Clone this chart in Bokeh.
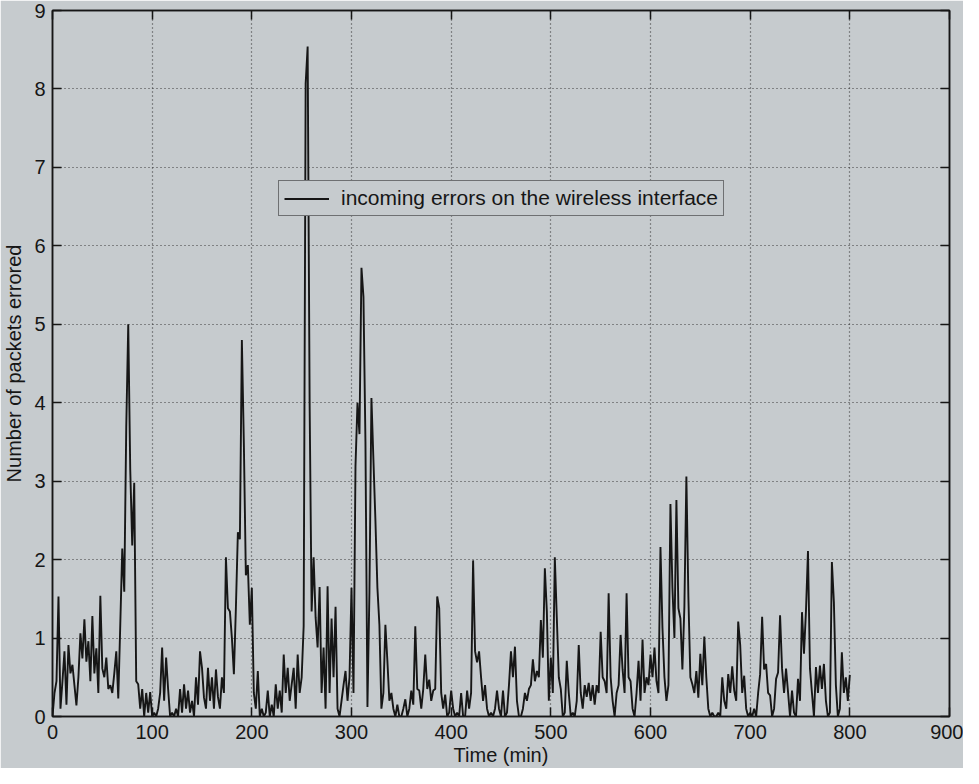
from bokeh.plotting import figure
from bokeh.models import Range1d, LinearAxis, FixedTicker, CustomLabelingPolicy
from bokeh.embed import file_html
from bokeh.resources import INLINE

# ---------------- data ----------------
x_ticks = [0, 100, 200, 300, 400, 500, 600, 700, 800, 900]
y_ticks = [0, 1, 2, 3, 4, 5, 6, 7, 8, 9]
series_name = "incoming errors on the wireless interface"
sample_step_min = 2

errors_000_098 = [0.0, 0.3, 0.45, 1.53, 0.1, 0.45, 0.83, 0.15, 0.91, 0.55,
                  0.66, 0.4, 0.14, 0.5, 1.06, 0.74, 1.24, 0.7, 0.96, 0.45,
                  1.28, 0.55, 0.87, 0.3, 1.54, 0.61, 0.5, 0.75, 0.35, 0.4,
                  0.3, 0.55, 0.83, 0.23, 1.17, 2.14, 1.59, 3.69, 5.0, 3.15,
                  2.18, 2.98, 0.45, 0.41, 0.1, 0.35, 0.0, 0.3, 0.05, 0.31]
errors_100_198 = [0.0, 0.05, 0.0, 0.1, 0.3, 0.88, 0.2, 0.75, 0.35, 0.0,
                  0.05, 0.0, 0.1, 0.0, 0.35, 0.05, 0.41, 0.1, 0.33, 0.05,
                  0.2, 0.0, 0.5, 0.15, 0.83, 0.62, 0.24, 0.1, 0.62, 0.2,
                  0.5, 0.1, 0.6, 0.25, 0.1, 0.5, 0.3, 2.03, 1.38, 1.34,
                  1.0, 0.54, 1.38, 2.35, 2.26, 4.8, 3.48, 1.8, 1.93, 1.17]
errors_200_298 = [1.64, 0.3, 0.1, 0.58, 0.0, 0.1, 0.0, 0.05, 0.33, 0.0,
                  0.15, 0.0, 0.41, 0.1, 0.33, 0.05, 0.79, 0.3, 0.62, 0.2,
                  0.41, 0.62, 0.1, 0.79, 0.3, 0.5, 1.15, 8.07, 8.54, 3.97,
                  1.34, 2.03, 1.26, 0.88, 1.65, 0.3, 0.88, 0.1, 1.66, 0.3,
                  1.25, 0.5, 1.4, 0.1, 0.0, 0.2, 0.4, 0.58, 0.2, 0.5]
errors_300_398 = [1.64, 0.3, 3.19, 4.0, 3.6, 5.72, 5.35, 3.5, 0.12, 1.59,
                  4.06, 3.27, 2.5, 1.64, 1.17, 0.1, 0.3, 1.17, 0.71, 0.2,
                  0.3, 0.1, 0.0, 0.15, 0.0, 0.0, 0.1, 0.22, 0.0, 0.1,
                  0.33, 0.15, 1.15, 0.35, 0.33, 0.1, 0.35, 0.79, 0.35, 0.47,
                  0.2, 0.33, 0.35, 1.53, 1.38, 0.3, 0.1, 0.28, 0.0, 0.05]
errors_400_498 = [0.33, 0.1, 0.0, 0.05, 0.0, 0.3, 0.0, 0.0, 0.33, 0.1,
                  0.3, 1.99, 0.83, 0.69, 0.83, 0.5, 0.2, 0.4, 0.1, 0.0,
                  0.05, 0.0, 0.1, 0.33, 0.1, 0.0, 0.33, 0.0, 0.05, 0.4,
                  0.83, 0.5, 0.89, 0.2, 0.0, 0.0, 0.1, 0.3, 0.2, 0.35,
                  0.4, 0.73, 0.45, 0.58, 0.5, 1.23, 0.75, 1.89, 1.34, 0.2]
errors_500_598 = [0.75, 0.3, 2.03, 1.26, 0.5, 0.35, 0.0, 0.05, 0.71, 0.3,
                  0.0, 0.05, 0.0, 0.2, 0.91, 0.3, 0.1, 0.4, 0.25, 0.43,
                  0.2, 0.4, 0.15, 0.4, 0.3, 1.08, 0.5, 0.45, 0.3, 1.57,
                  0.5, 0.2, 0.0, 0.3, 0.4, 1.04, 0.6, 0.3, 1.57, 0.5,
                  0.45, 0.1, 0.0, 0.3, 0.71, 0.2, 0.98, 0.3, 0.5, 0.4]
errors_600_698 = [0.79, 0.5, 0.88, 0.45, 0.3, 2.16, 1.13, 0.5, 0.2, 0.4,
                  2.71, 1.64, 1.0, 2.76, 1.38, 1.25, 0.6, 1.4, 3.06, 1.53,
                  0.5, 0.41, 0.3, 0.58, 0.24, 0.8, 0.4, 1.02, 0.5, 0.1,
                  0.0, 0.05, 0.0, 0.0, 0.05, 0.0, 0.5, 0.2, 0.1, 0.54,
                  0.3, 0.64, 0.33, 0.2, 1.21, 0.91, 0.3, 0.52, 0.1, 0.0]
errors_700_800 = [0.05, 0.0, 0.1, 0.0, 0.3, 0.54, 1.27, 0.6, 0.67, 0.3,
                  0.27, 0.0, 0.1, 0.48, 0.56, 1.29, 0.61, 0.3, 0.61, 0.31,
                  0.0, 0.33, 0.05, 0.0, 0.48, 0.2, 1.33, 0.8, 1.35, 2.11,
                  0.61, 0.3, 0.0, 0.63, 0.3, 0.65, 0.35, 0.67, 0.2, 0.0,
                  0.05, 1.97, 1.46, 0.4, 0.0, 0.1, 0.82, 0.3, 0.5, 0.2,
                  0.53]

errors = (errors_000_098 + errors_100_198 + errors_200_298 + errors_300_398 +
          errors_400_498 + errors_500_598 + errors_600_698 + errors_700_800)
time_min = [i * sample_step_min for i in range(len(errors))]

# ---------------- styling ----------------
BG = "#c6cbce"
INK = "#161616"
FONT = "Liberation Sans"

p = figure(width=963, height=768, output_backend="svg", toolbar_location=None,
           x_range=Range1d(0, 900), y_range=Range1d(0, 9),
           min_border_left=44, min_border_right=14, min_border_top=10,
           min_border_bottom=40)
p.background_fill_color = BG
p.border_fill_color = BG
p.outline_line_color = INK
p.outline_line_width = 1.5

p.xaxis.ticker = FixedTicker(ticks=x_ticks)
p.yaxis.ticker = FixedTicker(ticks=y_ticks)
p.xaxis.axis_label = "Time (min)"
p.yaxis.axis_label = "Number of packets errored"

for ax in (p.xaxis[0], p.yaxis[0]):
    ax.axis_line_color = INK
    ax.axis_line_width = 1.5
    ax.major_tick_line_color = INK
    ax.major_tick_line_width = 1.5
    ax.major_tick_in = 9
    ax.major_tick_out = 0
    ax.minor_tick_line_color = None
    ax.major_label_text_font = FONT
    ax.major_label_text_font_size = "20px"
    ax.major_label_text_color = INK
    ax.axis_label_text_font = FONT
    ax.axis_label_text_font_size = "20px"
    ax.axis_label_text_font_style = "normal"
    ax.axis_label_text_color = INK
p.xaxis.major_label_standoff = 8
p.xaxis.axis_label_standoff = 2
p.yaxis.major_label_standoff = 7
p.yaxis.axis_label_standoff = 6

no_labels = CustomLabelingPolicy(code="return new Set()")


def tick_only_axis(ticks):
    return LinearAxis(ticker=FixedTicker(ticks=ticks), major_label_text_font_size="1px",
                      major_label_policy=no_labels,
                      major_tick_in=9, major_tick_out=0, major_label_standoff=0,
                      minor_tick_line_color=None, axis_line_color=INK, axis_line_width=1.5,
                      major_tick_line_color=INK, major_tick_line_width=1.5)


p.add_layout(tick_only_axis(x_ticks), "above")
p.add_layout(tick_only_axis(y_ticks), "right")

p.xgrid.ticker = FixedTicker(ticks=x_ticks)
p.ygrid.ticker = FixedTicker(ticks=y_ticks)
for g in (p.xgrid[0], p.ygrid[0]):
    g.grid_line_color = "#2a2a2a"
    g.grid_line_width = 1.2
    g.grid_line_dash = "1 3"
    g.grid_line_alpha = 0.9

p.line(time_min, errors, line_color=INK, line_width=1.9, legend_label=series_name)

lg = p.legend[0]
lg.location = (226, 500)
lg.label_text_font = FONT
lg.label_text_font_size = "21px"
lg.label_text_color = INK
lg.border_line_color = INK
lg.border_line_width = 1.5
lg.background_fill_color = BG
lg.background_fill_alpha = 1.0
lg.padding = 5
lg.margin = 0
lg.spacing = 0
lg.glyph_width = 45
lg.glyph_height = 21
lg.label_standoff = 12

open("out.html", "w").write(file_html(p, INLINE))
